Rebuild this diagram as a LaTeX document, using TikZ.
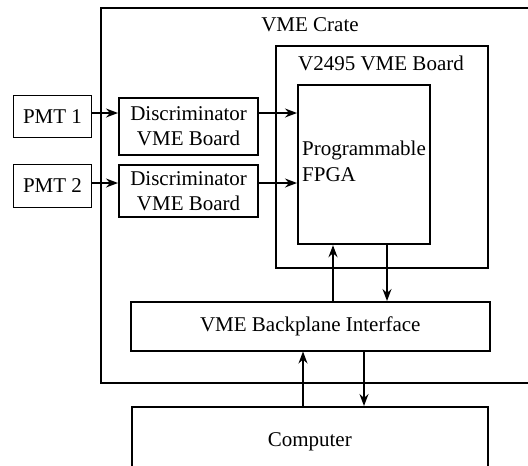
\documentclass[tikz,border=0pt]{standalone}
\usepackage{fontspec}
\setmainfont{Liberation Serif}
\usetikzlibrary{arrows.meta}
\begin{document}
\begin{tikzpicture}[x=1pt,y=-1pt,
  every node/.style={font=\fontsize{21}{25}\selectfont, inner sep=0pt},
  box/.style={draw, rectangle, anchor=north west},
  thinbox/.style={box, line width=1pt},
  midbox/.style={box, line width=1.5pt},
  thickbox/.style={box, line width=2.2pt},
  arr/.style={line width=1.5pt, -{Stealth[length=12pt,width=9pt,inset=4pt]}},
  lbl/.style={anchor=center}]
\useasboundingbox (0,0) rectangle (528,466);
\clip (0,0) rectangle (528,466);
% crate
\node[thickbox, minimum width=450pt, minimum height=375pt] (crate) at (100,7) {};
\node[lbl] (cratelbl) at (310,25) {VME Crate};
% V2495 board
\node[midbox, minimum width=212pt, minimum height=222pt] (board) at (275,45) {};
\node[lbl] (boardlbl) at (381,63) {V2495 VME Board};
% FPGA
\node[thickbox, minimum width=132pt, minimum height=159pt] (fpga) at (297,84) {};
\node[anchor=west, align=left, font=\fontsize{21}{26}\selectfont] (fpgalbl) at (302,161) {Programmable\\FPGA};
% PMTs
\node[thinbox, minimum width=78pt, minimum height=42pt] (pmt1) at (13,95) {PMT 1};
\node[thinbox, minimum width=78pt, minimum height=43pt] (pmt2) at (13,164) {PMT 2};
% discriminators
\node[thickbox, minimum width=139pt, minimum height=57pt, align=center] (disc1) at (118,97) {Discriminator\\VME Board};
\node[thickbox, minimum width=139pt, minimum height=52pt, align=center] (disc2) at (118,164) {Discriminator\\VME Board};
% backplane
\node[midbox, minimum width=359pt, minimum height=49pt] (bp) at (130,301) {VME Backplane Interface};
% computer
\node[midbox, minimum width=356pt, minimum height=70pt] (comp) at (131,406) {Computer};
% connector coordinates
\coordinate (y1) at (0,113);
\coordinate (y2) at (0,183);
\coordinate (xa) at (333,0);
\coordinate (xb) at (387,0);
\coordinate (xc) at (303,0);
\coordinate (xd) at (364,0);
% arrows
\draw[arr] (pmt1.east |- y1) -- (disc1.west |- y1);
\draw[arr] (disc1.east |- y1) -- (fpga.west |- y1);
\draw[arr] (pmt2.east |- y2) -- (disc2.west |- y2);
\draw[arr] (disc2.east |- y2) -- (fpga.west |- y2);
\draw[arr] (xa |- bp.north) -- (xa |- fpga.south);
\draw[arr] (xb |- fpga.south) -- (xb |- bp.north);
\draw[arr] (xc |- comp.north) -- (xc |- bp.south);
\draw[arr] (xd |- bp.south) -- (xd |- comp.north);
\end{tikzpicture}
\end{document}
